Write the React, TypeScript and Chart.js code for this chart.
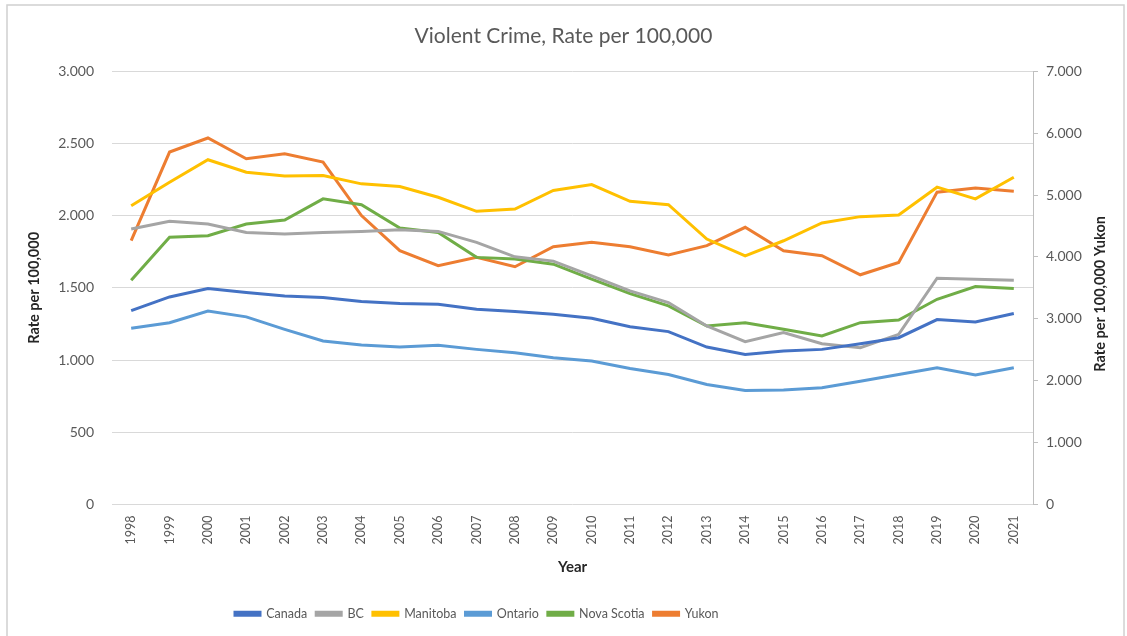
import React, { useEffect, useRef } from "react";
import { Chart, registerables } from "chart.js";

Chart.register(...registerables);

const years = ["1998","1999","2000","2001","2002","2003","2004","2005","2006","2007","2008","2009","2010","2011","2012","2013","2014","2015","2016","2017","2018","2019","2020","2021"];

const canada = [1342,1437,1496,1468,1444,1433,1405,1391,1387,1352,1336,1317,1289,1231,1197,1090,1039,1063,1074,1113,1155,1280,1264,1322];
const bc = [1907,1961,1942,1884,1873,1884,1891,1903,1891,1815,1715,1685,1583,1479,1398,1236,1127,1190,1113,1086,1178,1567,1560,1553];
const manitoba = [2069,2231,2387,2301,2275,2278,2220,2201,2127,2030,2046,2174,2215,2099,2076,1838,1722,1826,1949,1993,2005,2197,2116,2266];
const ontario = [1220,1259,1340,1299,1213,1132,1104,1090,1102,1074,1051,1016,993,942,900,831,789,792,808,854,900,947,896,947];
const novaScotia = [1553,1850,1861,1942,1970,2116,2076,1914,1884,1711,1699,1664,1560,1460,1375,1236,1259,1213,1167,1259,1277,1421,1509,1495];
const yukon = [4262,5694,5921,5586,5667,5532,4668,4100,3857,3992,3841,4165,4235,4165,4030,4181,4478,4100,4019,3711,3911,5046,5111,5062];

const seriesNames = ["Canada","BC","Manitoba","Ontario","Nova Scotia","Yukon"];
const seriesColors = ["#4472C4","#A5A5A5","#FFC000","#5B9BD5","#70AD47","#ED7D31"];

const titleText = "Violent Crime, Rate per 100,000";
const leftAxisTitle = "Rate per 100,000";
const rightAxisTitle = "Rate per 100,000 Yukon";
const xAxisTitle = "Year";

const FONT = "Lato, 'Open Sans', sans-serif";

const fmt = (v: number) => {
  const n = Math.round(v);
  return n.toString().replace(/\B(?=(\d{3})+(?!\d))/g, ".");
};

export default function App() {
  const ref = useRef<HTMLCanvasElement | null>(null);
  useEffect(() => {
    if (!ref.current) return;
    const data = [canada, bc, manitoba, ontario, novaScotia, yukon];
    const datasets = seriesNames.map((name, i) => ({
      label: name,
      data: data[i],
      borderColor: seriesColors[i],
      backgroundColor: seriesColors[i],
      borderWidth: 3,
      pointRadius: 0,
      tension: 0,
      yAxisID: name === "Yukon" ? "y2" : "y",
    }));
    const framePlugin = {
      id: "frame",
      beforeDraw(chart: any) {
        const ctx = chart.ctx;
        ctx.save();
        ctx.fillStyle = "#ffffff";
        ctx.fillRect(0, 0, chart.width, chart.height);
        ctx.strokeStyle = "#d0d0d0";
        ctx.lineWidth = 1.5;
        ctx.strokeRect(7, 5, 1117, 640);
        ctx.restore();
      },
      afterLayout(chart: any) {
        const lg = chart.legend;
        if (lg && lg.lineWidths && lg.lineWidths.length) {
          const pad = lg.options.labels.padding;
          const targetStart = 235;
          lg.right = 2 * targetStart - lg.left - pad + lg.lineWidths[0];
        }
      },
      afterDraw(chart: any) {
        const ctx = chart.ctx;
        const ca = chart.chartArea;
        ctx.save();
        ctx.font = "bold 14.5px " + FONT;
        ctx.fillStyle = "#262626";
        ctx.textAlign = "center";
        ctx.textBaseline = "middle";
        ctx.translate(1100, (ca.top + ca.bottom) / 2 + 6);
        ctx.rotate(-Math.PI / 2);
        ctx.fillText(rightAxisTitle, 0, 0);
        ctx.restore();
      },
    };
    const chart = new Chart(ref.current, {
      type: "line",
      data: { labels: years, datasets },
      plugins: [framePlugin],
      options: {
        animation: false,
        responsive: true,
        maintainAspectRatio: false,
        layout: { padding: { left: 0, right: 0, top: 24, bottom: 6 } },
        plugins: {
          title: {
            display: true,
            text: titleText,
            color: "#595959",
            font: { family: FONT, size: 21, weight: "normal" },
            padding: { top: 0, bottom: 22 },
          },
          legend: {
            position: "bottom",
            labels: {
              boxWidth: 25,
              boxHeight: 3,
              padding: 9,
              color: "#595959",
              font: { family: FONT, size: 12.5 },
            },
          },
          tooltip: { enabled: false },
        },
        scales: {
          x: {
            offset: true,
            grid: { display: false, drawTicks: false },
            border: { display: false },
            ticks: {
              color: "#595959",
              font: { family: FONT, size: 12.5 },
              maxRotation: 90,
              minRotation: 90,
              padding: 11,
              autoSkip: false,
            },
            title: {
              display: true,
              text: xAxisTitle,
              color: "#262626",
              font: { family: FONT, size: 15, weight: "bold" },
              padding: { top: 0, bottom: 22 },
            },
            afterFit(scale: any) {
              scale.height = 94;
            },
          },
          y: {
            position: "left",
            min: 0,
            max: 3000,
            ticks: {
              stepSize: 500,
              color: "#595959",
              font: { family: FONT, size: 14 },
              padding: 18,
              callback: (v: any) => fmt(Number(v)),
            },
            grid: { color: "#d9d9d9", lineWidth: 1, drawTicks: false },
            border: { display: false },
            title: {
              display: true,
              text: leftAxisTitle,
              color: "#262626",
              font: { family: FONT, size: 14.5, weight: "bold" },
              padding: { top: 26, bottom: 0 },
            },
            afterFit(scale: any) {
              scale.width = 112;
            },
          },
          y2: {
            position: "right",
            min: 0,
            max: 7000,
            ticks: {
              stepSize: 1000,
              color: "#595959",
              font: { family: FONT, size: 14 },
              padding: 8,
              callback: (v: any) => fmt(Number(v)),
            },
            grid: { drawOnChartArea: false, drawTicks: true, tickLength: 5, color: "#bfbfbf" },
            border: { display: true, color: "#bfbfbf" },
            afterFit(scale: any) {
              scale.width = 94;
            },
          },
        },
      },
    });
    return () => chart.destroy();
  }, []);
  return (
    <div style={{ position: "fixed", left: 0, top: 0, width: 1127, height: 636, background: "#fff" }}>
      <canvas ref={ref} />
    </div>
  );
}
